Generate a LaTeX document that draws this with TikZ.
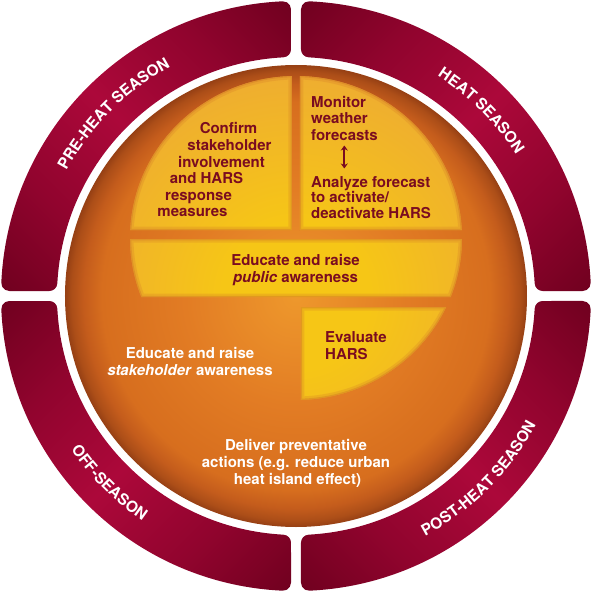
\documentclass[tikz,border=0pt]{standalone}
\usepackage{fontspec}
\usetikzlibrary{decorations.text,arrows.meta}
\newfontfamily\hv{TeX Gyre Heros}
\definecolor{rdark}{RGB}{110,0,30}
\definecolor{rmid}{RGB}{145,4,46}
\definecolor{rbright}{RGB}{172,8,58}
\definecolor{maroon}{RGB}{122,12,32}
\definecolor{o0}{RGB}{238,152,44}
\definecolor{o1}{RGB}{226,124,36}
\definecolor{o2}{RGB}{215,110,30}
\definecolor{o3}{RGB}{196,92,28}
\definecolor{o4}{RGB}{172,78,24}
\definecolor{o5}{RGB}{150,64,20}
\definecolor{p0}{RGB}{246,198,22}
\definecolor{p1}{RGB}{238,172,50}
\definecolor{glow}{RGB}{212,122,38}
\pgfdeclarehorizontalshading{ringsh}{100bp}{color(0bp)=(rdark); color(32bp)=(rdark); color(41bp)=(rmid); color(50bp)=(rbright); color(59bp)=(rmid); color(68bp)=(rdark); color(100bp)=(rdark)}
\pgfdeclareradialshading{orsh}{\pgfpoint{0bp}{0bp}}{color(0bp)=(o0); color(12bp)=(o1); color(21bp)=(o2); color(23bp)=(o3); color(24.3bp)=(o4); color(25bp)=(o5); color(50bp)=(o5)}
\pgfdeclareradialshading{pnsh}{\pgfpoint{0bp}{0bp}}{color(0bp)=(p0); color(8bp)=(p0); color(25bp)=(p1); color(50bp)=(p1)}
\newcommand\ringstyle{\hv\bfseries\fontsize{15.5}{16}\selectfont\color{white}}
\def\segpath{(92.596:295) arc[start angle=92.596, end angle=177.404, radius=295] arc[start angle=177.404, end angle=270, radius=8] -- (-246.658,5) arc[start angle=270, end angle=356.983, radius=8] arc[start angle=176.983, end angle=93.017, radius=239] arc[start angle=273.017, end angle=360, radius=8] -- (-5,286.705) arc[start angle=0, end angle=92.596, radius=8] -- cycle}
\begin{document}
\begin{tikzpicture}[x=1pt,y=1pt,
  lbl/.style={font=\hv\bfseries\fontsize{15}{16.5}\selectfont, text=maroon, inner sep=0pt, anchor=base},
  lblw/.style={lbl, anchor=base west},
  wlbl/.style={lbl, text=white},
  ringtext/.style={decorate, decoration={text along path, text align=center, text={|\ringstyle|#1}}}]
\useasboundingbox (-296,-299) rectangle (299,296);
% ring segments
\foreach \r/\a in {0/45, -90/-45, -180/45, -270/-45}{
  \begin{scope}
    \clip[rotate=\r] \segpath;
    \shade[shading=ringsh, shading angle=\a] (0,0) circle[radius=296];
  \end{scope}
}
% ring labels
\path[ringtext={PRE-HEAT SEASON}] (180:261.5) arc[start angle=180, end angle=90, radius=261.5];
\path[ringtext={HEAT SEASON}] (90:261.5) arc[start angle=90, end angle=0, radius=261.5];
\path[ringtext={POST-HEAT SEASON}] (270:272.5) arc[start angle=270, end angle=360, radius=272.5];
\path[ringtext={OFF-SEASON}] (180:272.5) arc[start angle=180, end angle=270, radius=272.5];
% orange disc
\shade[shading=orsh] (0,0) circle[radius=231];
% yellow panels
\begin{scope}
  \clip (0,58) ellipse[x radius=166, y radius=162];
  \clip (-300,66) rectangle (-4,300) (4,66) rectangle (300,300) (-300,-1) rectangle (300,57) (5,-300) rectangle (300,-11);
  \shade[shading=pnsh] (0,0) circle[radius=230];
  \draw[glow, line width=7pt, opacity=.25] (0,58) ellipse[x radius=166, y radius=162] (-300,66) rectangle (-4,300) (4,66) rectangle (300,300) (-300,-1) rectangle (300,57) (5,-300) rectangle (300,-11);
  \draw[glow, line width=2.5pt, opacity=.45] (0,58) ellipse[x radius=166, y radius=162] (-300,66) rectangle (-4,300) (4,66) rectangle (300,300) (-300,-1) rectangle (300,57) (5,-300) rectangle (300,-11);
\end{scope}
% texts
\foreach \t/\x/\y [count=\i] in {{Confirm}/-67.5/162, {stakeholder}/-66.5/145.5, {involvement}/-74.5/129, {and HARS}/-89.5/112.5, {response}/-97.5/96, {measures}/-103.5/79.5}
  \node[lbl] (tl\i) at (\x,\y) {\t};
\foreach \t/\y [count=\i] in {{Monitor}/188, {weather}/172, {forecasts}/156}
  \node[lblw] (mo\i) at (15,\y) {\t};
\foreach \t/\y [count=\i] in {{Analyze forecast}/109, {to activate/}/93.5, {deactivate HARS}/78}
  \node[lblw] (an\i) at (15,\y) {\t};
\node[lbl] (pu1) at (-0.5,30.5) {Educate and raise};
\node[lbl] (pu2) at (-0.5,13.3) {\textit{public} awareness};
\node[lblw] (ev1) at (29,-46.5) {Evaluate};
\node[lblw] (ev2) at (29,-63.5) {HARS};
\node[wlbl] (st1) at (-106,-62.3) {Educate and raise};
\node[wlbl] (st2) at (-106,-79.7) {\textit{stakeholder} awareness};
\node[wlbl] (de1) at (0,-154) {Deliver preventative};
\node[wlbl] (de2) at (0,-171.3) {actions (e.g. reduce urban};
\node[wlbl] (de3) at (1.5,-188) {heat island effect)};
\coordinate (arT) at (48.3,150.5);
\coordinate (arB) at (48.3,127.5);
\draw[maroon, line width=1.6pt, {Stealth[length=5pt,width=7pt]}-{Stealth[length=5pt,width=7pt]}] (arT) -- (arB);
\end{tikzpicture}
\end{document}
